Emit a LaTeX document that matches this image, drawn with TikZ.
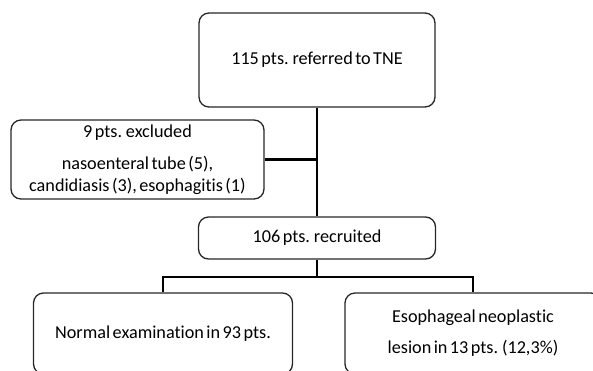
\documentclass[tikz,border=0pt]{standalone}
\usepackage{fontspec}
\setmainfont{Carlito}[WordSpace=0.6, Ligatures=NoCommon]
\begin{document}
\begin{tikzpicture}[x=1pt,y=-1pt,
  box/.style={draw=black!85, line width=1.3pt, rounded corners=10pt, align=center,
    inner sep=0pt, font=\fontsize{18.2}{21.5}\selectfont, text=black},
  link/.style={line width=2.4pt, draw=black}]
\clip (0,0) rectangle (593,370);
\node[box, minimum width=236pt, minimum height=94pt] (top) at (317,60) {115 pts. referred to TNE};
\node[box, minimum width=253pt, minimum height=79pt] (excl) at (137.5,159.5)
  {9 pts. excluded\\[11pt]nasoenteral tube (5),\\candidiasis (3), esophagitis (1)};
\node[box, minimum width=237pt, minimum height=42pt] (rec) at (317,238) {106 pts. recruited};
\node[box, minimum width=259pt, minimum height=81pt] (left) at (163,333.5) {Normal examination in 93 pts.};
\node[box, minimum width=256pt, minimum height=81pt] (right) at (473,333.5)
  {Esophageal neoplastic\\[9.5pt]lesion in 13 pts. (12,3\%)};
\coordinate (j1) at (top.south |- excl.east);
\coordinate (j2) at (317,277);
\draw[link] (top.south) -- (rec.north);
\draw[link] (excl.east) -- (j1);
\draw[link] (rec.south) -- (j2);
\draw[link] (left.north) |- (j2) -| (right.north);
\end{tikzpicture}
\end{document}
